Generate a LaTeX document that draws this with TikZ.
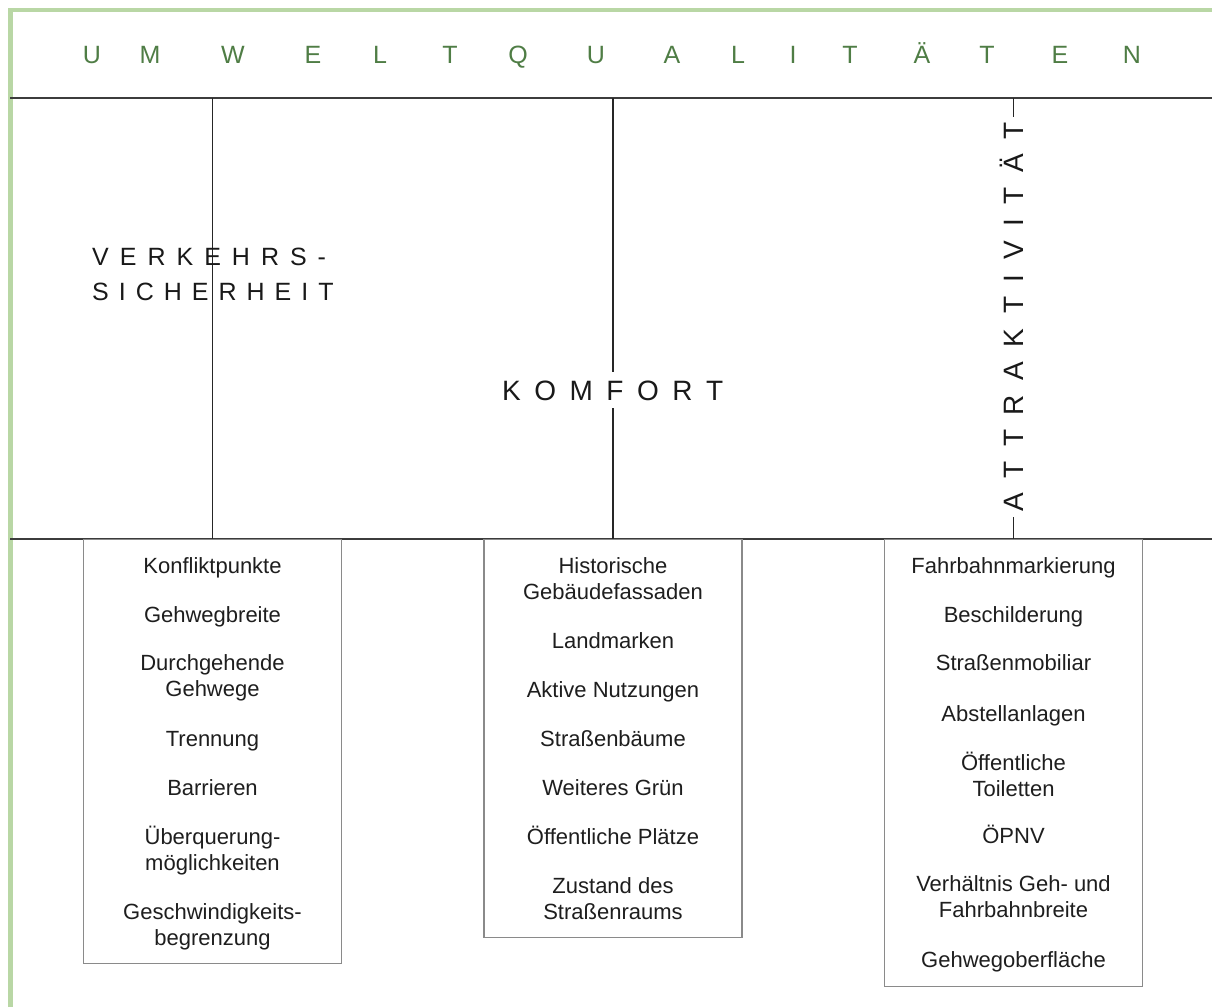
\documentclass[tikz,border=0pt]{standalone}
\usepackage{fontspec}
\setmainfont{Liberation Sans}

% letter-spaced capitals: a fixed kern between consecutive letters
\ExplSyntaxOn
\NewDocumentCommand\spaced{mm}
 {
  \bool_set_true:N \l_tmpa_bool
  \tl_map_inline:nn {#2}
   {
    \bool_if:NF \l_tmpa_bool { \kern #1 \relax }
    \bool_set_false:N \l_tmpa_bool
    ##1
   }
 }
\ExplSyntaxOff

\definecolor{framegreen}{HTML}{B9D7A5}
\definecolor{titlegreen}{HTML}{4F7D45}
\definecolor{rulegray}{HTML}{3C3C3C}
\definecolor{boxgray}{HTML}{8A8A8A}
\definecolor{inkgray}{HTML}{1E1E1E}

\begin{document}
\begin{tikzpicture}[x=1pt,y=-1pt,
  frame/.style={draw=framegreen,line width=4.5pt},
  rule/.style={draw=rulegray,line width=2pt},
  stem/.style={draw=black!85,line width=1.6pt},
  listbox/.style={draw=boxgray,line width=1.3pt,fill=white,anchor=north,
                  minimum width=258pt,inner sep=0pt},
  % multi-line nodes sit on the baseline of their last line
  item/.style={font=\fontsize{22}{26}\selectfont,text=inkgray,align=center,
               anchor=base,inner sep=0pt},
  heading/.style={text=black!90,inner sep=0pt},
  titleletter/.style={font=\fontsize{25}{30}\selectfont,text=titlegreen,
                      anchor=base,inner sep=0pt}
]
\fill[white] (0,0) rectangle (1212,1007);
\useasboundingbox (0,0) rectangle (1212,1007);

% green frame, top and left edge
\draw[frame] (10.5,1007) -- (10.5,10) -- (1212,10);

% spaced-out title
\foreach \ch/\cx [count=\i] in {U/92,M/150,W/233,E/313,L/380,T/450,Q/518,U/596,
                                A/672,L/738,I/793,T/850,Ä/922,T/987,E/1060,N/1132}
  \node[titleletter] (title\i) at (\cx,63) {\ch};

% the two horizontal rules
\coordinate (ruleTL) at (10,98);  \coordinate (ruleTR) at (1212,98);
\coordinate (ruleBL) at (10,539); \coordinate (ruleBR) at (1212,539);
\draw[rule] (ruleTL) -- (ruleTR);
\draw[rule] (ruleBL) -- (ruleBR);

% list boxes hanging from the lower rule
\node[listbox,minimum height=424pt] (listA) at (212.5,539) {};
\node[listbox,minimum height=398pt] (listB) at (613,539) {};
\node[listbox,minimum height=447pt] (listC) at (1013.5,539) {};

% vertical stems from the upper rule to each box
\draw[stem] (listA.north |- ruleTL) -- (listA.north);
\draw[stem] (listB.north |- ruleTL) -- (listB.north);
\draw[stem] (listC.north |- ruleTL) -- (listC.north);

% category headings
\node[heading,font=\fontsize{25}{35}\selectfont,align=left,anchor=base west]
  (safety) at (92,300) {\spaced{11pt}{VERKEHRS-}\\\spaced{10pt}{SICHERHEIT}};
\node[heading,font=\fontsize{28}{34}\selectfont,anchor=base west,fill=white,
      inner xsep=3pt,inner ysep=8pt]
  (comfort) at (499,400) {\spaced{13.5pt}{KOMFORT}};
\node[heading,font=\fontsize{28}{34}\selectfont,rotate=90,fill=white,
      text height=20pt,text depth=0pt,inner xsep=5pt,inner ysep=3pt]
  (appeal) at (1013.5,317) {\spaced{14.6pt}{ATTRAKTIVITÄT}};

% items: Verkehrssicherheit
\node[item] (a1) at (212.5,573) {Konfliktpunkte};
\node[item] (a2) at (212.5,622) {Gehwegbreite};
\node[item] (a3) at (212.5,696) {Durchgehende\\Gehwege};
\node[item] (a4) at (212.5,746) {Trennung};
\node[item] (a5) at (212.5,795) {Barrieren};
\node[item] (a6) at (212.5,870) {Überquerung-\\möglichkeiten};
\node[item] (a7) at (212.5,945) {Geschwindigkeits-\\begrenzung};

% items: Komfort
\node[item] (b1) at (613,599) {Historische\\Gebäudefassaden};
\node[item] (b2) at (613,648) {Landmarken};
\node[item] (b3) at (613,697) {Aktive Nutzungen};
\node[item] (b4) at (613,746) {Straßenbäume};
\node[item] (b5) at (613,795) {Weiteres Grün};
\node[item] (b6) at (613,844) {Öffentliche Plätze};
\node[item] (b7) at (613,919) {Zustand des\\Straßenraums};

% items: Attraktivität
\node[item] (c1) at (1013.5,573) {Fahrbahnmarkierung};
\node[item] (c2) at (1013.5,622) {Beschilderung};
\node[item] (c3) at (1013.5,670) {Straßenmobiliar};
\node[item] (c4) at (1013.5,721) {Abstellanlagen};
\node[item] (c5) at (1013.5,796) {Öffentliche\\Toiletten};
\node[item] (c6) at (1013.5,843) {ÖPNV};
\node[item] (c7) at (1013.5,917) {Verhältnis Geh- und\\Fahrbahnbreite};
\node[item] (c8) at (1013.5,967) {Gehwegoberfläche};
\end{tikzpicture}
\end{document}
